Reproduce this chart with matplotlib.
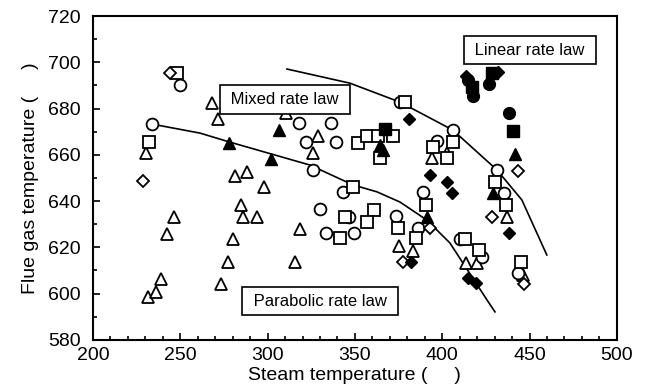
import numpy as np
import matplotlib
matplotlib.use("Agg")
import matplotlib.pyplot as plt
from matplotlib.ticker import MultipleLocator

plt.rcParams['font.family'] = ['Liberation Sans', 'DejaVu Sans']

# open triangles
tri_x = [231.5, 236.1, 238.9, 242.4, 246.4, 230.3, 268.1, 271.6, 273.3, 277.3,
         280.2, 284.7, 285.9, 293.9, 281.3, 288.2, 297.9, 318.5, 315.6, 310.5,
         328.8, 326.0, 375.2, 383.2, 394.1, 402.7, 413.5, 419.8, 437.0, 446.2]
tri_y = [598.6, 600.7, 606.4, 625.8, 633.1, 660.8, 682.4, 675.5, 604.2, 613.7,
         623.6, 638.3, 633.1, 633.1, 650.9, 652.6, 646.1, 628.0, 613.7, 678.1,
         668.1, 660.8, 620.6, 618.5, 658.6, 660.8, 613.3, 613.3, 633.1, 608.1]

# open circles
cir_x = [233.8, 249.8, 317.9, 336.3, 321.9, 339.1, 326.0, 330.0, 333.4, 349.4,
         346.6, 343.1, 373.5, 386.1, 388.9, 375.8, 396.9, 406.1, 431.3, 435.3,
         410.1, 422.7, 443.3]
cir_y = [673.3, 690.2, 673.8, 673.8, 665.6, 665.6, 653.5, 636.6, 626.2, 626.2,
         633.1, 644.0, 633.6, 628.4, 644.0, 682.8, 666.0, 670.7, 653.5, 643.5,
         623.6, 615.9, 608.9]

# open squares
sq_x = [232.1, 248.1, 344.3, 360.9, 356.9, 341.4, 348.9, 374.6, 384.9, 390.7,
        351.7, 356.9, 363.2, 371.8, 364.3, 378.6, 394.7, 402.7, 406.1, 430.1,
        436.4, 413.0, 421.0, 445.0]
sq_y = [665.6, 695.4, 633.1, 636.2, 631.0, 624.1, 646.1, 628.4, 624.1, 638.3,
        665.1, 668.1, 668.1, 668.1, 658.6, 682.8, 663.4, 658.6, 665.6, 648.3,
        638.3, 623.6, 618.9, 613.7]

# open diamonds
dia_x = [228.6, 244.1, 377.5, 392.9, 428.4, 443.3, 446.8]
dia_y = [648.7, 695.4, 613.7, 628.4, 633.1, 653.0, 604.2]

# filled markers
ftri_x = [277.9, 301.9, 306.5, 364.3, 366.0, 391.2, 429.0, 441.6]
ftri_y = [665.1, 658.2, 670.7, 664.3, 662.1, 633.1, 643.5, 660.4]
fcir_x = [414.7, 417.6, 426.7, 438.2]
fcir_y = [692.3, 685.4, 690.6, 678.1]
fsq_x = [367.2, 417.0, 428.4, 440.5]
fsq_y = [671.2, 689.3, 695.4, 670.3]
fdia_x = [380.9, 392.9, 402.7, 405.5, 438.2, 382.1, 414.7, 419.3, 413.5, 431.9]
fdia_y = [675.5, 651.3, 648.3, 643.5, 626.2, 613.7, 606.8, 604.6, 694.1, 695.8]

# boundary curves
lower_x = [233.8, 261.3, 278.4, 324.2, 348.9, 362.6, 375.8, 391.2, 404.4, 425.6, 430.2]
lower_y = [673.3, 669.4, 665.5, 655.6, 647.0, 644.0, 639.6, 631.8, 621.9, 597.3, 592.1]
upper_x = [311.1, 347.1, 375.8, 406.1, 431.3, 445.6, 459.9]
upper_y = [697.1, 691.0, 682.8, 670.7, 653.5, 640.5, 616.7]

fig = plt.figure(figsize=(6.5, 3.92), dpi=100)
ax = fig.add_axes([0.143, 0.133, 0.806, 0.826])

ax.plot(lower_x, lower_y, color='black', lw=1.2, zorder=2)
ax.plot(upper_x, upper_y, color='black', lw=1.2, zorder=2)

ew = 1.3
ax.plot(tri_x, tri_y, '^', ms=9, mfc='white', mec='black', mew=ew, ls='none', zorder=3)
ax.plot(cir_x, cir_y, 'o', ms=8.5, mfc='white', mec='black', mew=ew, ls='none', zorder=3)
ax.plot(sq_x, sq_y, 's', ms=8.5, mfc='white', mec='black', mew=ew, ls='none', zorder=3)
ax.plot(dia_x, dia_y, 'D', ms=6, mfc='white', mec='black', mew=ew, ls='none', zorder=3)
ax.plot(ftri_x, ftri_y, '^', ms=9, color='black', ls='none', zorder=4)
ax.plot(fcir_x, fcir_y, 'o', ms=8.5, color='black', ls='none', zorder=4)
ax.plot(fsq_x, fsq_y, 's', ms=8, color='black', ls='none', zorder=4)
ax.plot(fdia_x, fdia_y, 'D', ms=6.5, color='black', ls='none', zorder=4)

box = dict(boxstyle='square,pad=0.4', fc='white', ec='black', lw=1.2)
ax.text(450.2, 705.3, ' Linear rate law ', fontsize=12, ha='center', va='center', bbox=box, zorder=5)
ax.text(309.9, 683.9, ' Mixed rate law ', fontsize=12, ha='center', va='center', bbox=box, zorder=5)
ax.text(330.0, 596.8, ' Parabolic rate law ', fontsize=12, ha='center', va='center', bbox=box, zorder=5)

ax.set_xlim(200, 500)
ax.set_ylim(580, 720)
ax.xaxis.set_major_locator(MultipleLocator(50))
ax.xaxis.set_minor_locator(MultipleLocator(10))
ax.yaxis.set_major_locator(MultipleLocator(20))
ax.yaxis.set_minor_locator(MultipleLocator(10))
ax.tick_params(which='both', direction='in', top=False, right=False, labelsize=14, width=1.2)
ax.tick_params(which='major', length=5)
ax.tick_params(which='minor', length=3)
ax.tick_params(axis='y', which='major', pad=9)
ax.tick_params(axis='x', which='major', pad=5)
for s in ax.spines.values():
    s.set_linewidth(1.5)

ax.set_xlabel('Steam temperature (     )', fontsize=14, labelpad=2)
ax.set_ylabel('Flue gas temperature (     )', fontsize=14, labelpad=6)

fig.savefig('out.png', dpi=100)
